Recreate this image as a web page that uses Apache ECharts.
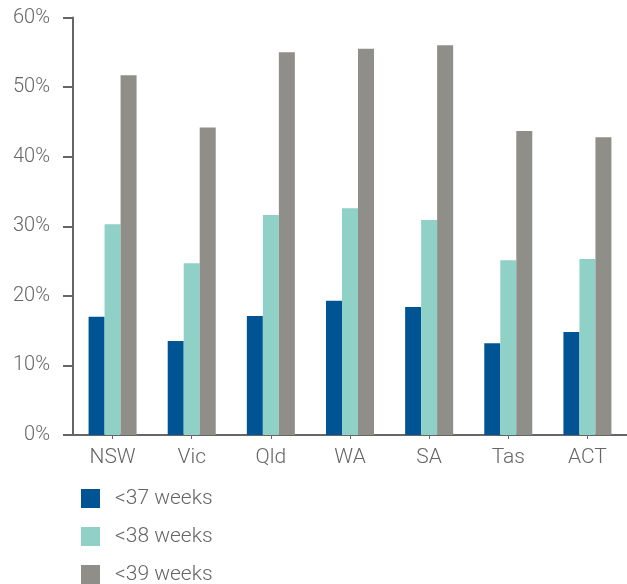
<!DOCTYPE html>
<html>
<head>
<meta charset="utf-8">
<script src="https://cdn.jsdelivr.net/npm/echarts@6/dist/echarts.min.js"></script>
<style>
  html, body { margin: 0; padding: 0; background: #fff; }
  #chart { width: 627px; height: 584px; }
</style>
</head>
<body>
<div id="chart"></div>
<script>
// States and territories
const categories = ['NSW', 'Vic', 'Qld', 'WA', 'SA', 'Tas', 'ACT'];

// Share of births by gestation threshold (%)
const under37 = [17.0, 13.5, 17.1, 19.3, 18.4, 13.2, 14.8];
const under38 = [30.3, 24.7, 31.6, 32.6, 30.9, 25.1, 25.3];
const under39 = [51.7, 44.2, 55.0, 55.5, 56.0, 43.7, 42.8];

const seriesNames = ['<37 weeks', '<38 weeks', '<39 weeks'];
const yTicks = [0, 10, 20, 30, 40, 50, 60];

const colors = ['#005493', '#8fd1c6', '#8f8e89'];
const textColor = '#666666';
const axisColor = '#666666';
const font = 'Roboto, "Liberation Sans", sans-serif';

const chart = echarts.init(document.getElementById('chart'));

chart.setOption({
  animation: false,
  color: colors,
  grid: { left: 73, right: -6, top: 17.5, bottom: 149, containLabel: false },
  legend: {
    orient: 'vertical',
    left: 81,
    top: 488,
    height: 120,
    padding: 0,
    itemWidth: 19,
    itemHeight: 19,
    itemGap: 17,
    icon: 'rect',
    data: seriesNames,
    textStyle: { color: textColor, fontSize: 21, fontWeight: 300, fontFamily: font, padding: [0, 0, 0, 10], lineHeight: 21 }
  },
  xAxis: {
    type: 'category',
    data: categories,
    axisLine: { lineStyle: { color: axisColor, width: 2 } },
    axisTick: { show: true, alignWithLabel: true, length: 4, lineStyle: { color: axisColor, width: 1 } },
    axisLabel: { color: textColor, fontSize: 21, fontWeight: 300, fontFamily: font, margin: 12 }
  },
  yAxis: {
    type: 'value',
    min: yTicks[0],
    max: yTicks[yTicks.length - 1],
    interval: 10,
    splitLine: { show: false },
    axisLine: { show: true, lineStyle: { color: axisColor, width: 2 } },
    axisTick: { show: true, length: 10, lineStyle: { color: axisColor, width: 2 } },
    axisLabel: { color: textColor, fontSize: 20, fontWeight: 300, fontFamily: font, margin: 23, padding: [8, 0, 0, 0], formatter: v => v + '%' }
  },
  series: [
    { name: seriesNames[0], type: 'bar', data: under37, barWidth: 16, barGap: '0%' },
    { name: seriesNames[1], type: 'bar', data: under38, barWidth: 16, barGap: '0%' },
    { name: seriesNames[2], type: 'bar', data: under39, barWidth: 16, barGap: '0%' }
  ]
});
</script>
</body>
</html>
